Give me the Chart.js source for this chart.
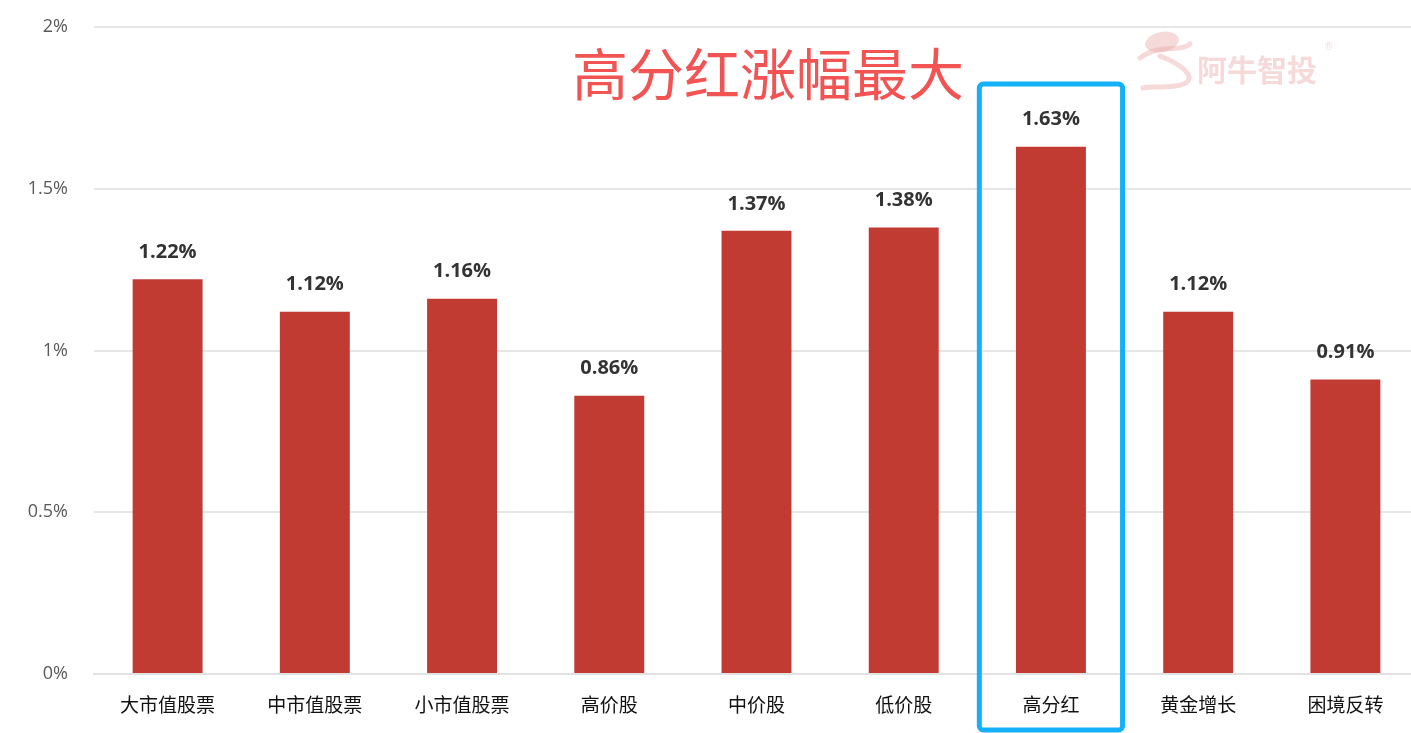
<!DOCTYPE html>
<html>
<head>
<meta charset="utf-8">
<script src="https://cdn.jsdelivr.net/npm/chart.js@4/dist/chart.umd.min.js"></script>
<style>
    html, body { margin: 0; padding: 0; background: #fff; overflow: hidden; }
    #wrap { width: 1411px; height: 733px; position: relative; overflow: hidden; }
    canvas { display: block; }
</style>
</head>
<body>
<div id="wrap"><canvas id="c" width="1419" height="733"></canvas></div>
<script>
const categories = ['大市值股票', '中市值股票', '小市值股票', '高价股', '中价股', '低价股', '高分红', '黄金增长', '困境反转'];
const gains = [1.22, 1.12, 1.16, 0.86, 1.37, 1.38, 1.63, 1.12, 0.91];
const yTicks = [0, 0.5, 1, 1.5, 2];
const headline = '高分红涨幅最大';
const highlightIndex = 6;

const CJK = '"Noto Sans CJK SC", "Noto Sans", sans-serif';

// value labels above each bar
const valueLabels = {
    id: 'valueLabels',
    afterDatasetsDraw(chart) {
        const ctx = chart.ctx;
        const meta = chart.getDatasetMeta(0);
        ctx.save();
        ctx.font = 'bold 20px "Open Sans", "Noto Sans", sans-serif';
        ctx.fillStyle = '#333333';
        ctx.textAlign = 'center';
        ctx.textBaseline = 'middle';
        meta.data.forEach((bar, i) => {
            ctx.fillText(gains[i].toFixed(2) + '%', bar.x, bar.y - 27);
        });
        ctx.restore();
    }
};

// headline, watermark and the highlight box
const decorations = {
    id: 'decorations',
    afterDraw(chart) {
        const ctx = chart.ctx;
        const xs = chart.scales.x;
        const area = chart.chartArea;
        ctx.save();

        // watermark
        ctx.strokeStyle = 'rgba(236, 170, 170, 0.45)';
        ctx.fillStyle = 'rgba(236, 170, 170, 0.45)';
        ctx.lineWidth = 5;
        ctx.lineCap = 'round';
        ctx.beginPath();
        ctx.moveTo(1140, 58);
        ctx.bezierCurveTo(1160, 43, 1180, 53, 1190, 44);
        ctx.stroke();
        ctx.beginPath();
        ctx.moveTo(1160, 56);
        ctx.bezierCurveTo(1190, 68, 1200, 83, 1175, 86);
        ctx.bezierCurveTo(1160, 88, 1150, 86, 1143, 88);
        ctx.stroke();
        ctx.beginPath();
        ctx.ellipse(1162, 42, 17, 10, -0.2, 0, Math.PI * 2);
        ctx.fill();
        ctx.font = 'bold 30px ' + CJK;
        ctx.textAlign = 'left';
        ctx.textBaseline = 'middle';
        ctx.fillText('阿牛智投', 1197, 70);
        ctx.font = '10px sans-serif';
        ctx.fillText('®', 1325, 47);

        // headline
        ctx.font = '56px ' + CJK;
        ctx.fillStyle = '#f25454';
        ctx.textAlign = 'center';
        ctx.textBaseline = 'middle';
        ctx.fillText(headline, 768, 74);

        // highlight box round the chosen category
        const step = xs.width / categories.length;
        const cx = xs.getPixelForValue(highlightIndex);
        const left = cx - step / 2 + 2;
        const right = cx + step / 2 - 2;
        const top = area.top + 57;
        const bottom = chart.height - 3;
        ctx.strokeStyle = '#15b0fa';
        ctx.lineWidth = 5;
        ctx.beginPath();
        ctx.roundRect(left, top, right - left, bottom - top, 4);
        ctx.stroke();
        ctx.restore();
    }
};

new Chart(document.getElementById('c'), {
    type: 'bar',
    data: {
        labels: categories,
        datasets: [{
            data: gains,
            backgroundColor: '#c23b33',
            borderWidth: 0,
            barPercentage: 0.475,
            categoryPercentage: 1
        }]
    },
    options: {
        responsive: false,
        animation: false,
        layout: { padding: { top: 27, right: 0, left: 0, bottom: 0 } },
        plugins: {
            legend: { display: false },
            tooltip: { enabled: false }
        },
        scales: {
            x: {
                grid: { display: false },
                border: { color: '#e2e2e2', width: 2 },
                ticks: { color: '#111111', font: { family: CJK, size: 19 }, padding: 11, maxRotation: 0 },
                afterFit(s) { s.height = 59; s.paddingLeft = 0; s.paddingRight = 0; }
            },
            y: {
                min: 0,
                max: 2,
                afterBuildTicks(s) { s.ticks = yTicks.map(v => ({ value: v })); },
                grid: { color: '#e6e6e6', lineWidth: 2, drawTicks: false },
                border: { display: false },
                ticks: {
                    color: '#595959',
                    font: { family: '"Open Sans", "DejaVu Sans", sans-serif', size: 18 },
                    padding: 26,
                    callback: v => v + '%'
                },
                afterFit(s) { s.width = 94; s.paddingTop = 0; s.paddingBottom = 0; }
            }
        }
    },
    plugins: [valueLabels, decorations]
});
</script>
</body>
</html>
